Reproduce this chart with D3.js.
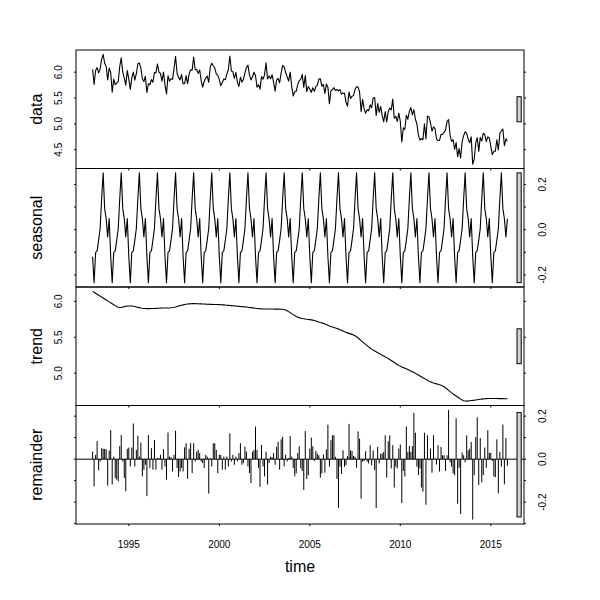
<!DOCTYPE html>
<html>
<head>
<meta charset="utf-8">
<script src="https://cdn.jsdelivr.net/npm/d3@7"></script>
<style>
body { margin: 0; background: #fff; }
text { font-family: "Liberation Sans", Arial, Helvetica, sans-serif; fill: #000; }
</style>
</head>
<body>
<div id="chart"></div>
<script>
// monthly series, Jan 1993 .. Dec 2015
var startYear = 1993;
var panelNames = ["data", "seasonal", "trend", "remainder"];
var xTicks = [1995, 2000, 2005, 2010, 2015];

// seasonal component, one value per month (Jan..Dec)
var seasonalPattern = [-0.119, -0.234, -0.100, -0.094, -0.046, 0.005, 0.137, 0.251, 0.093, 0.049, -0.032, 0.049];

// trend component, one row per year
var trend = [
  6.138, 6.125, 6.112, 6.098, 6.085, 6.072, 6.059, 6.045, 6.032, 6.019, 6.006, 5.992,
  5.979, 5.966, 5.953, 5.940, 5.928, 5.918, 5.913, 5.915, 5.920, 5.926, 5.931, 5.934,
  5.935, 5.935, 5.934, 5.931, 5.927, 5.922, 5.917, 5.912, 5.907, 5.903, 5.900, 5.899,
  5.898, 5.898, 5.898, 5.899, 5.900, 5.901, 5.902, 5.903, 5.904, 5.905, 5.906, 5.907,
  5.907, 5.907, 5.907, 5.908, 5.910, 5.913, 5.917, 5.922, 5.928, 5.934, 5.940, 5.946,
  5.951, 5.955, 5.959, 5.962, 5.965, 5.967, 5.968, 5.968, 5.968, 5.967, 5.966, 5.965,
  5.964, 5.963, 5.962, 5.961, 5.960, 5.959, 5.958, 5.957, 5.956, 5.956, 5.955, 5.955,
  5.954, 5.953, 5.951, 5.950, 5.948, 5.946, 5.944, 5.942, 5.940, 5.938, 5.936, 5.934,
  5.932, 5.930, 5.928, 5.926, 5.924, 5.922, 5.920, 5.918, 5.915, 5.912, 5.909, 5.906,
  5.903, 5.900, 5.898, 5.896, 5.895, 5.894, 5.894, 5.894, 5.894, 5.894, 5.894, 5.893,
  5.893, 5.892, 5.892, 5.891, 5.890, 5.890, 5.889, 5.886, 5.880, 5.870, 5.857, 5.843,
  5.829, 5.815, 5.802, 5.790, 5.780, 5.772, 5.766, 5.761, 5.757, 5.753, 5.750, 5.747,
  5.745, 5.742, 5.738, 5.733, 5.727, 5.719, 5.711, 5.705, 5.700, 5.693, 5.685, 5.676,
  5.667, 5.658, 5.650, 5.643, 5.636, 5.629, 5.621, 5.613, 5.605, 5.596, 5.587, 5.578,
  5.569, 5.561, 5.554, 5.547, 5.540, 5.532, 5.521, 5.507, 5.490, 5.472, 5.454, 5.436,
  5.418, 5.401, 5.384, 5.367, 5.350, 5.335, 5.322, 5.310, 5.298, 5.286, 5.274, 5.262,
  5.251, 5.240, 5.229, 5.217, 5.204, 5.190, 5.176, 5.162, 5.148, 5.134, 5.121, 5.109,
  5.098, 5.088, 5.079, 5.070, 5.061, 5.052, 5.042, 5.032, 5.021, 5.010, 4.998, 4.986,
  4.974, 4.962, 4.950, 4.938, 4.926, 4.914, 4.902, 4.890, 4.880, 4.871, 4.864, 4.858,
  4.852, 4.846, 4.840, 4.833, 4.824, 4.812, 4.797, 4.780, 4.762, 4.744, 4.727, 4.712,
  4.698, 4.684, 4.670, 4.655, 4.640, 4.627, 4.618, 4.613, 4.612, 4.614, 4.617, 4.620,
  4.622, 4.625, 4.628, 4.631, 4.634, 4.637, 4.640, 4.643, 4.645, 4.647, 4.648, 4.649,
  4.649, 4.649, 4.649, 4.648, 4.648, 4.647, 4.647, 4.646, 4.646, 4.645, 4.645, 4.645
];

// remainder component, one row per year
var remainder = [
  0.035, -0.126, 0.020, 0.084, -0.052, -0.011, 0.051, 0.048, 0.048, 0.046, -0.123, 0.040,
  0.135, -0.118, 0.012, -0.088, -0.095, -0.103, 0.061, 0.112, -0.011, -0.088, -0.149, 0.048,
  0.054, -0.034, 0.054, 0.166, -0.034, 0.043, 0.109, 0.012, 0.077, -0.080, -0.049, -0.026,
  -0.172, 0.112, -0.041, 0.051, -0.049, 0.089, -0.049, 0.005, 0.005, 0.020, -0.049, 0.046,
  -0.034, -0.095, 0.124, 0.012, 0.009, -0.057, 0.020, 0.132, -0.041, -0.083, -0.057, -0.041,
  -0.057, 0.055, 0.074, -0.091, 0.048, 0.074, -0.065, 0.074, -0.011, 0.035, 0.043, 0.028,
  -0.011, -0.018, -0.041, 0.020, 0.012, -0.160, 0.005, -0.034, 0.074, 0.074, 0.043, -0.065,
  0.020, 0.020, -0.049, 0.012, -0.049, 0.012, -0.034, 0.120, -0.011, 0.020, -0.026, 0.012,
  -0.011, 0.028, 0.074, -0.026, -0.018, 0.058, 0.035, -0.034, -0.065, -0.111, 0.035, 0.043,
  0.151, 0.043, -0.041, -0.129, 0.066, -0.034, -0.080, 0.035, -0.118, -0.018, 0.012, 0.009,
  0.028, -0.026, 0.058, 0.081, -0.049, 0.092, 0.104, -0.034, 0.020, -0.011, 0.005, 0.108,
  0.012, -0.041, -0.080, -0.066, 0.029, 0.060, -0.043, -0.055, -0.143, 0.131, -0.092, -0.074,
  0.049, 0.100, 0.060, -0.009, 0.038, 0.026, 0.018, -0.086, -0.066, 0.022, -0.063, 0.045,
  0.160, -0.035, 0.088, 0.111, 0.111, 0.011, -0.092, -0.227, -0.035, -0.069, 0.041, -0.035,
  -0.028, 0.014, 0.164, 0.041, 0.038, 0.015, 0.011, -0.040, 0.129, 0.095, -0.184, -0.012,
  -0.009, 0.037, -0.012, -0.020, 0.065, -0.028, 0.041, -0.051, -0.227, 0.057, -0.020, 0.026,
  0.026, 0.034, 0.111, -0.086, 0.083, 0.111, -0.043, 0.065, -0.132, -0.035, -0.043, 0.049,
  0.068, -0.204, -0.055, -0.081, 0.152, 0.034, 0.061, 0.034, 0.060, 0.215, 0.123, -0.035,
  -0.074, -0.043, -0.132, -0.151, 0.123, -0.212, 0.111, -0.005, 0.049, -0.063, 0.111, 0.003,
  -0.025, 0.065, -0.058, 0.057, 0.018, 0.018, -0.055, 0.018, 0.229, -0.015, -0.035, -0.066,
  -0.074, 0.190, -0.207, -0.040, -0.255, 0.031, 0.018, -0.015, 0.111, 0.041, 0.049, 0.080,
  -0.281, -0.074, 0.103, 0.195, -0.120, 0.098, -0.108, -0.074, 0.054, -0.040, 0.134, 0.029,
  0.029, -0.009, -0.081, -0.084, 0.092, -0.158, 0.034, -0.035, 0.161, -0.117, 0.098, -0.031
];

var n = remainder.length;
var time = d3.range(n).map(function(i) { return startYear + i / 12; });
var seasonal = time.map(function(t, i) { return seasonalPattern[i % 12]; });
// the observed series is the sum of its three components
var data = time.map(function(t, i) { return trend[i] + seasonal[i] + remainder[i]; });
var series = [data, seasonal, trend, remainder];

var W = 600, H = 600;
var plotLeft = 76, plotRight = 524, plotTop = 50, ph = 118.5;
var tick = 2;

// R style axis range: data range stretched by 4% on each side
function rRange(ext) {
    var e = (ext[1] - ext[0]) * 0.04;
    return [ext[0] - e, ext[1] + e];
}

var svg = d3.select("#chart").append("svg").attr("width", W).attr("height", H);

var x = d3.scaleLinear().domain(rRange(d3.extent(time))).range([plotLeft, plotRight]);

// all range bars share the smallest panel range
var mx = d3.min(series, function(s) { var e = d3.extent(s); return e[1] - e[0]; });

series.forEach(function(s, i) {
    var y0 = plotTop + ph * i;
    var ext = d3.extent(s);
    var y = d3.scaleLinear().domain(rRange(ext)).range([y0 + ph, y0]);
    var g = svg.append("g");
    var labelRight = (i % 2 == 1);

    if (i < 3) {
        var line = d3.line()
            .x(function(d, j) { return x(time[j]); })
            .y(function(d) { return y(d); });
        g.append("path")
            .datum(s)
            .attr("d", line)
            .style("fill", "none")
            .style("stroke", "black")
            .style("stroke-width", 1.1)
            .style("stroke-linejoin", "round");
    } else {
        g.append("line")
            .attr("x1", plotLeft).attr("x2", plotRight)
            .attr("y1", y(0)).attr("y2", y(0))
            .style("stroke", "black");
        g.selectAll("line.bar")
            .data(s)
            .enter()
            .append("line")
                .attr("class", "bar")
                .attr("x1", function(d, j) { return x(time[j]); })
                .attr("x2", function(d, j) { return x(time[j]); })
                .attr("y1", y(0))
                .attr("y2", function(d) { return y(d); })
                .style("stroke", "black")
                .style("stroke-width", 1);
    }

    // panel box
    g.append("rect")
        .attr("x", plotLeft).attr("y", y0)
        .attr("width", plotRight - plotLeft).attr("height", ph)
        .style("fill", "none").style("stroke", "black").style("stroke-width", 1);

    // range bar
    var mid = (ext[0] + ext[1]) / 2;
    var ux = x.domain()[1];
    var dx = (x.domain()[1] - x.domain()[0]) / 64;
    g.append("rect")
        .attr("x", x(ux - dx))
        .attr("y", y(mid + mx / 2))
        .attr("width", x(ux - 0.4 * dx) - x(ux - dx))
        .attr("height", y(mid - mx / 2) - y(mid + mx / 2))
        .style("fill", "#d3d3d3").style("stroke", "black").style("stroke-width", 1);

    // y ticks on both sides
    var yt = y.ticks(i % 2 == 1 ? 5 : 4);
    g.selectAll("line.yl").data(yt).enter().append("line")
        .attr("class", "yl")
        .attr("x1", plotLeft - tick).attr("x2", plotLeft)
        .attr("y1", function(d) { return y(d); }).attr("y2", function(d) { return y(d); })
        .style("stroke", "black");
    g.selectAll("line.yr").data(yt).enter().append("line")
        .attr("class", "yr")
        .attr("x1", plotRight).attr("x2", plotRight + tick)
        .attr("y1", function(d) { return y(d); }).attr("y2", function(d) { return y(d); })
        .style("stroke", "black");

    // x ticks at the bottom of every panel
    g.selectAll("line.xt").data(xTicks).enter().append("line")
        .attr("class", "xt")
        .attr("x1", function(d) { return x(d); }).attr("x2", function(d) { return x(d); })
        .attr("y1", y0 + ph).attr("y2", y0 + ph + tick)
        .style("stroke", "black");

    // tick labels, rotated like R's las = 0
    var shown = yt.filter(function(d) {
        return labelRight ? Math.abs(Math.round(d * 10)) % 2 == 0 : true;
    });
    var lx = labelRight ? 546 : 62;
    g.selectAll("text.yl").data(shown).enter().append("text")
        .attr("class", "yl")
        .attr("transform", function(d) { return "translate(" + lx + "," + y(d) + ") rotate(-90)"; })
        .attr("text-anchor", "middle")
        .style("font-size", "10px")
        .text(function(d) { return d.toFixed(1); });

    // panel name
    svg.append("text")
        .attr("transform", "translate(42," + (y0 + ph / 2) + ") rotate(-90)")
        .attr("text-anchor", "middle")
        .style("font-size", "16px")
        .text(panelNames[i]);
});

// bottom axis labels
svg.selectAll("text.xl").data(xTicks).enter().append("text")
    .attr("class", "xl")
    .attr("x", function(d) { return x(d); })
    .attr("y", 548)
    .attr("text-anchor", "middle")
    .style("font-size", "10px")
    .text(function(d) { return d; });

svg.append("text")
    .attr("x", (plotLeft + plotRight) / 2)
    .attr("y", 572)
    .attr("text-anchor", "middle")
    .style("font-size", "16px")
    .text("time");
</script>
</body>
</html>
